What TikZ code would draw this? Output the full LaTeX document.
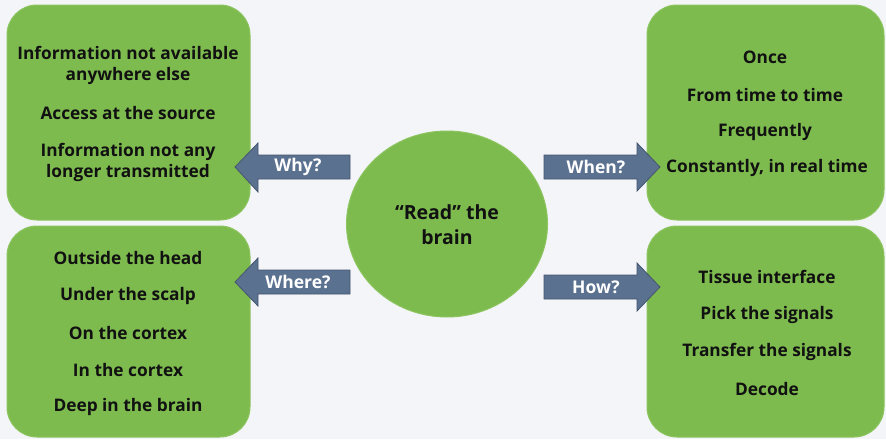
\documentclass[tikz,border=0pt]{standalone}
\usepackage{fontspec}
\setmainfont{Open Sans}
\usetikzlibrary{shapes.geometric}
\definecolor{bg}{HTML}{F3F5F8}
\definecolor{boxgreen}{HTML}{7EBB4F}
\definecolor{boxedge}{HTML}{8CC45F}
\definecolor{arrowfill}{HTML}{5B7190}
\definecolor{arrowedge}{HTML}{45566E}
\definecolor{txt}{HTML}{111111}
\tikzset{
  greenbox/.style={fill=boxgreen, draw=boxedge, line width=1pt, rounded corners=30pt},
  boxtext/.style={font=\bfseries\fontsize{17.3}{21}\selectfont, text=txt, align=center, inner sep=0pt},
  arrowshape/.style={fill=arrowfill, draw=arrowedge, line width=0.8pt, line join=miter},
  arrowtext/.style={font=\bfseries\fontsize{17.5}{21}\selectfont, text=white, inner sep=0pt},
}
\begin{document}
\begin{tikzpicture}[x=1pt,y=-1pt]
\useasboundingbox (0,0) rectangle (886,439);
\fill[bg] (0,0) rectangle (886,439);
% boxes
\draw[greenbox] (7,5) rectangle (250,220);
\draw[greenbox] (7,226) rectangle (250,437);
\draw[greenbox] (647,5) rectangle (884,220);
\draw[greenbox] (647,226) rectangle (884,437);
% centre
\node[ellipse, minimum width=201pt, minimum height=186pt, fill=boxgreen, draw=boxedge, line width=1pt, inner sep=0pt] (brain) at (447,224) {};
\node[boxtext, font=\bfseries\fontsize{19.5}{25}\selectfont] (braintxt) at (447,225) {“Read” the\\brain};
% top-left text
\node[boxtext] (tl1) at (128,65) {Information not available\\anywhere else};
\node[boxtext] (tl2) at (128,113) {Access at the source};
\node[boxtext] (tl3) at (128,162) {Information not any\\longer transmitted};
% bottom-left text
\node[boxtext] (bl1) at (128,258) {Outside the head};
\node[boxtext] (bl2) at (128,296) {Under the scalp};
\node[boxtext] (bl3) at (128,333) {On the cortex};
\node[boxtext] (bl4) at (128,370) {In the cortex};
\node[boxtext] (bl5) at (128,407) {Deep in the brain};
% top-right text
\node[boxtext] (tr1) at (765,57) {Once};
\node[boxtext] (tr2) at (765,95) {From time to time};
\node[boxtext] (tr3) at (765,132) {Frequently};
\node[boxtext] (tr4) at (767,168) {Constantly, in real time};
% bottom-right text
\node[boxtext] (br1) at (767,277) {Tissue interface};
\node[boxtext] (br2) at (767,315) {Pick the signals};
\node[boxtext] (br3) at (767,352) {Transfer the signals};
\node[boxtext] (br4) at (767,389) {Decode};
% arrows
\draw[arrowshape] (350,155) -- (258,155) -- (258,143) -- (235,167) -- (258,192) -- (258,179) -- (350,179) -- cycle;
\node[arrowtext] (why) at (298,167) {Why?};
\draw[arrowshape] (350,270) -- (258,270) -- (258,258) -- (235,282) -- (258,306) -- (258,294) -- (350,294) -- cycle;
\node[arrowtext] (where) at (298,282) {Where?};
\draw[arrowshape] (544,155) -- (637,155) -- (637,143) -- (660,167) -- (637,191) -- (637,179) -- (544,179) -- cycle;
\node[arrowtext] (when) at (596,167) {When?};
\draw[arrowshape] (544,275) -- (637,275) -- (637,263) -- (660,287) -- (637,311) -- (637,299) -- (544,299) -- cycle;
\node[arrowtext] (how) at (596,287) {How?};
\end{tikzpicture}
\end{document}
